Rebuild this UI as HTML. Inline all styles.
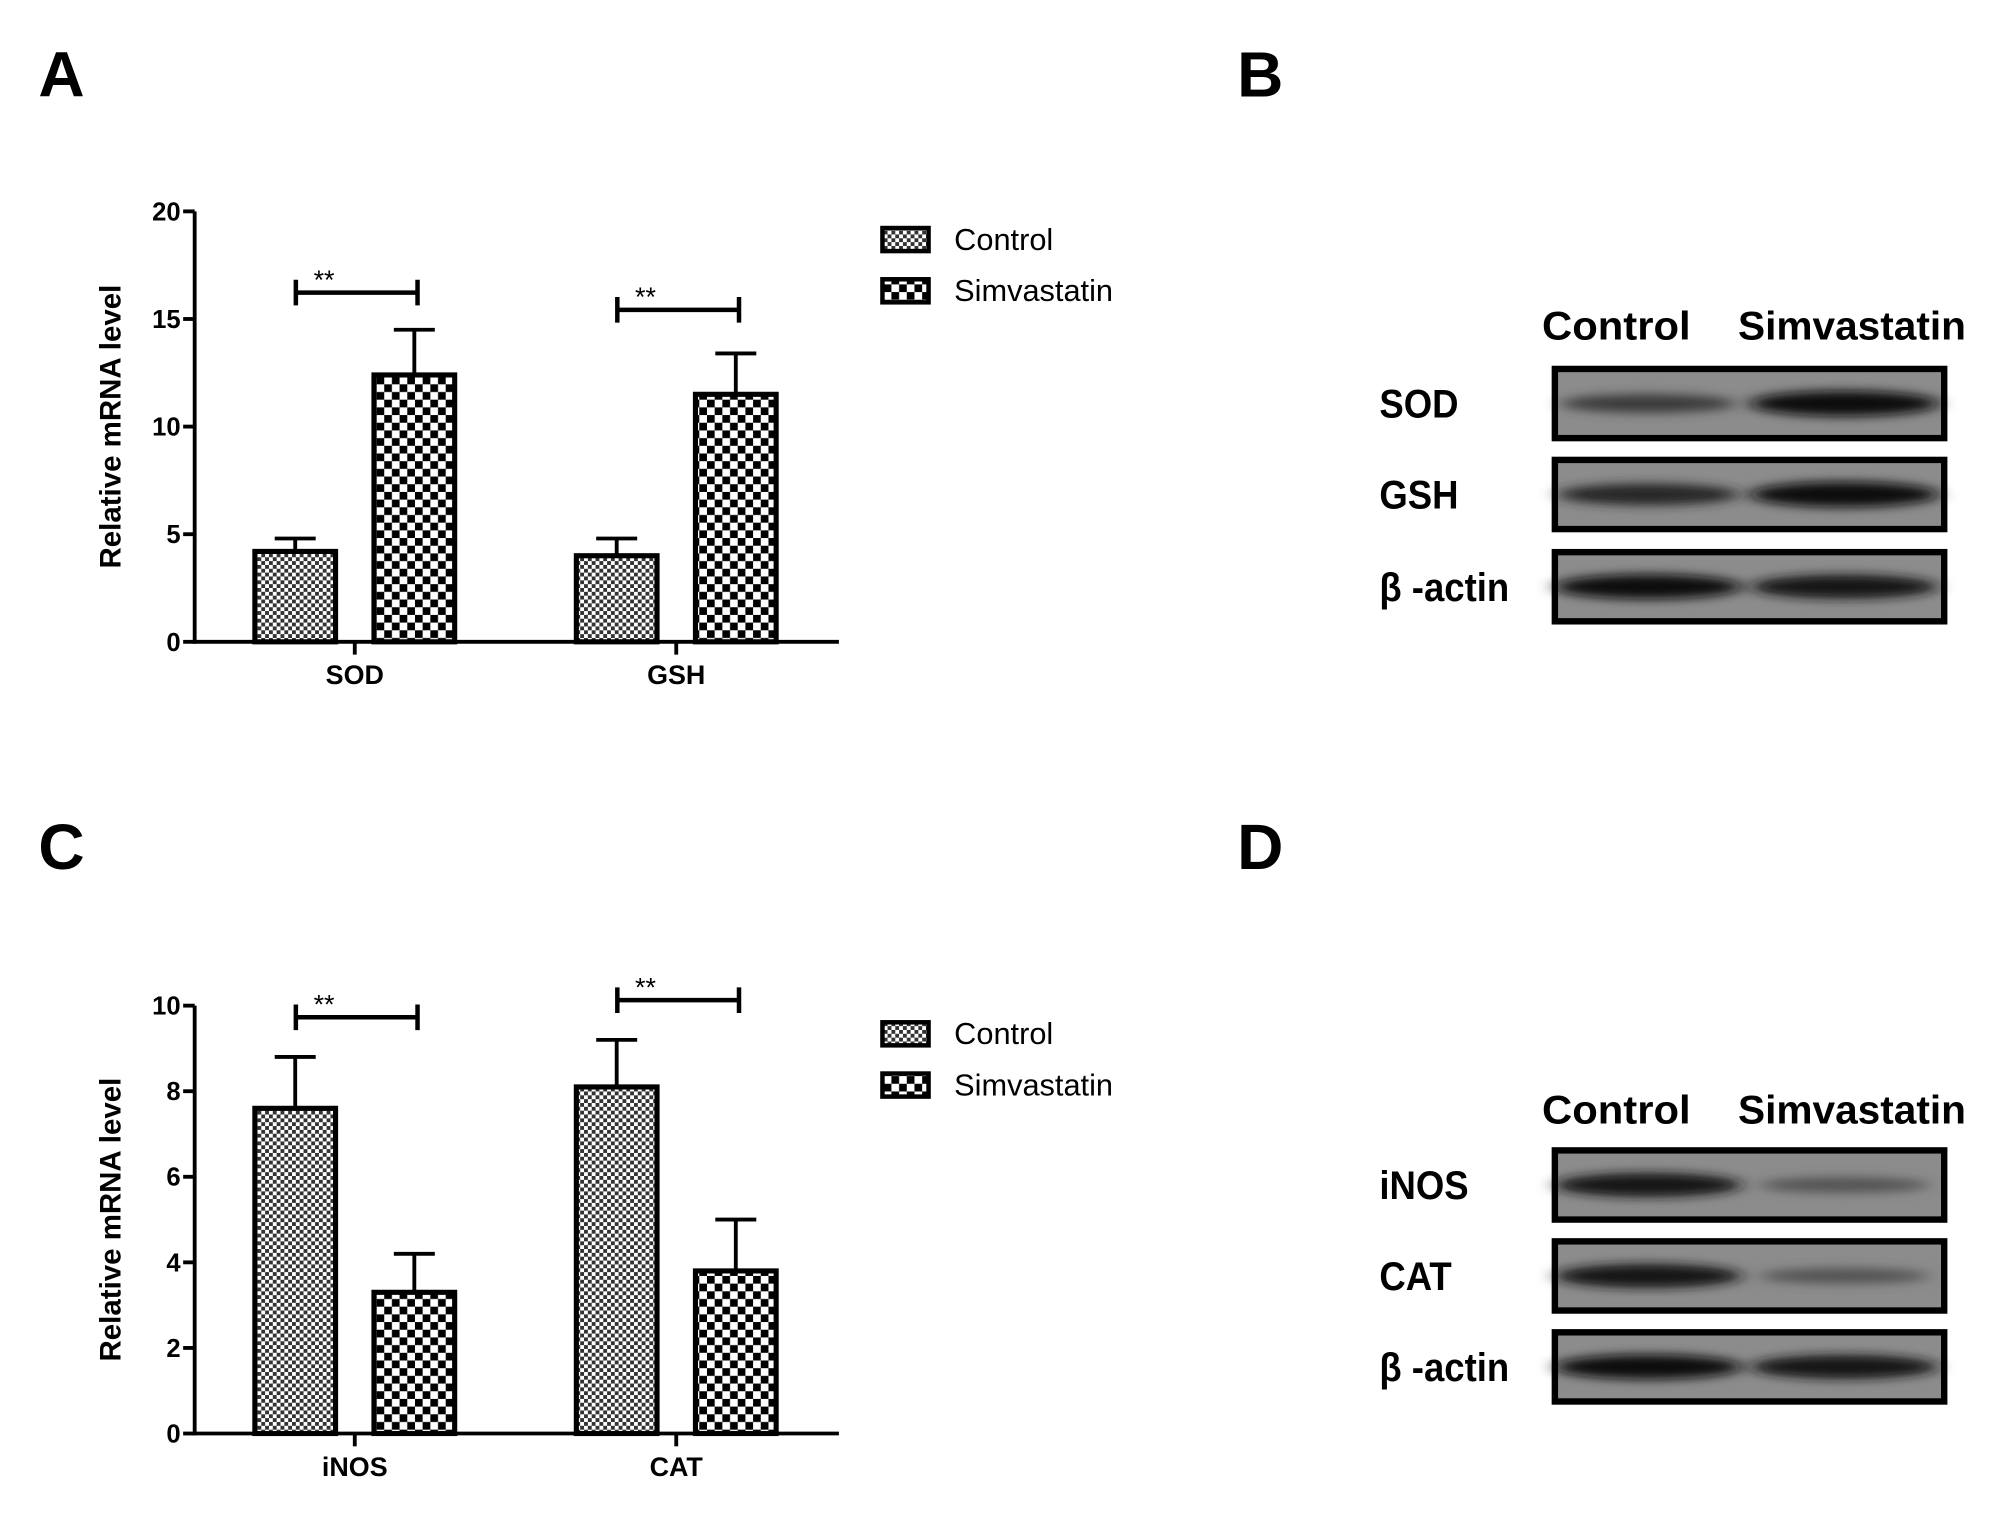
<!DOCTYPE html>
<html><head><meta charset="utf-8">
<style>
html,body{margin:0;padding:0;background:#fff;}
svg{display:block;}
text{font-family:"Liberation Sans",Arial,sans-serif;}
</style></head>
<body>
<svg id="fig" width="1998" height="1536" viewBox="0 0 1560 1199" preserveAspectRatio="none" xmlns="http://www.w3.org/2000/svg">
<defs>
<pattern id="pCtrl" width="6" height="6" patternUnits="userSpaceOnUse">
<rect width="6" height="6" fill="#fff"/><rect width="3" height="3" fill="#333"/><rect x="3" y="3" width="3" height="3" fill="#333"/>
</pattern>
<pattern id="pSim" width="12" height="12" patternUnits="userSpaceOnUse">
<rect width="12" height="12" fill="#fff"/><rect width="6" height="6" fill="#000"/><rect x="6" y="6" width="6" height="6" fill="#000"/>
</pattern>
<filter id="blur" x="-30%" y="-100%" width="160%" height="300%"><feGaussianBlur stdDeviation="7 4"/></filter>
</defs>
<g id="root"></g>
</svg>
<script>
// Panel A data
const catsA = ["SOD", "GSH"];
const ctrlA = [4.2, 4.0];
const ctrlErrA = [0.6, 0.8];
const simA = [12.4, 11.5];
const simErrA = [2.1, 1.9];
const ticksA = [0, 5, 10, 15, 20];
// Panel C data
const catsC = ["iNOS", "CAT"];
const ctrlC = [7.6, 8.1];
const ctrlErrC = [1.2, 1.1];
const simC = [3.3, 3.8];
const simErrC = [0.9, 1.2];
const ticksC = [0, 2, 4, 6, 8, 10];
// Blot data (band darkness 0-1: control, simvastatin)
const blotRowsB = ["SOD", "GSH", "β -actin"];
const blotCtrlB = [0.55, 0.75, 0.95];
const blotSimB = [1.0, 1.0, 0.9];
const blotRowsD = ["iNOS", "CAT", "β -actin"];
const blotCtrlD = [0.9, 0.9, 0.95];
const blotSimD = [0.35, 0.35, 0.9];

const NS = "http://www.w3.org/2000/svg";
const root = document.getElementById("root");
function el(tag, attrs, parent, txt) {
  const e = document.createElementNS(NS, tag);
  for (const k in attrs) e.setAttribute(k, attrs[k]);
  if (txt !== undefined) e.textContent = txt;
  (parent || root).appendChild(e);
  return e;
}

function panelLetter(t, x, y) {
  const e = el("text", {x: x, y: y, "font-size": 50, "font-weight": "bold", "text-anchor": "middle", "dominant-baseline": "middle"}, root, t);
  
  
}

function barChart(cfg) {
  const g = el("g", {});
  
  
  const x0 = 152, x1 = 655, yBase = cfg.y0, yTopPx = cfg.yTop;
  const maxV = cfg.ticks[cfg.ticks.length - 1];
  const ys = v => yBase - (v / maxV) * (yBase - yTopPx);
  const ax = el("g", {}, g);
  
  
  el("line", {x1: x0, y1: yTopPx, x2: x0, y2: yBase + 1.5, stroke: "#000", "stroke-width": 3}, ax);
  cfg.ticks.forEach(t => {
    const y = ys(t);
    el("line", {x1: x0 - 9, y1: y, x2: x0, y2: y, stroke: "#000", "stroke-width": 3}, ax);
    const tl = el("text", {x: x0 - 11, y: y + 7, "font-size": 20, "font-weight": "bold", "text-anchor": "end"}, ax, String(t));
    
    
  });
  const xa = el("line", {x1: x0, y1: yBase, x2: x1, y2: yBase, stroke: "#000", "stroke-width": 3}, g);
  
  
  const yt = el("text", {x: 0, y: 0, "font-size": 23, "font-weight": "bold", "text-anchor": "middle", transform: "translate(94," + ((yBase + yTopPx) / 2) + ") rotate(-90)"}, g, "Relative mRNA level");
  
  
  const groupW = 251, bw = 63;
  cfg.cats.forEach((c, i) => {
    const cx = 277 + i * groupW;
    el("line", {x1: cx, y1: yBase, x2: cx, y2: yBase + 10, stroke: "#000", "stroke-width": 3}, g);
    const cl = el("text", {x: cx, y: yBase + 33, "font-size": 21, "font-weight": "bold", "text-anchor": "middle"}, g, c);
    
    
    const series = [[cfg.ctrl[i], cfg.ctrlErr[i], "url(#pCtrl)", cx - 78, "control"], [cfg.sim[i], cfg.simErr[i], "url(#pSim)", cx + 15, "simvastatin"]];
    const tops = [];
    series.forEach(s => {
      const bx = s[3], yv = ys(s[0]), ye = ys(s[0] + s[1]);
      const ec = bx + bw / 2;
      const er = el("path", {d: "M" + ec + "," + yv + "V" + ye + "M" + (ec - 16) + "," + ye + "H" + (ec + 16), stroke: "#000", "stroke-width": 3, fill: "none"}, g);
      
      
      const b = el("rect", {x: bx, y: yv, width: bw, height: yBase - yv, fill: s[2], stroke: "#000", "stroke-width": 4}, g);
      
      
      tops.push(ye);
    });
    const bx1 = cx - 46, bx2 = cx + 49;
    const by = Math.min(tops[0], tops[1]) - cfg.gap[i];
    const br = el("path", {d: "M" + bx1 + "," + (by - 10) + "V" + (by + 10) + "M" + bx1 + "," + by + "H" + bx2 + "M" + bx2 + "," + (by - 10) + "V" + (by + 10), stroke: "#000", "stroke-width": 3.5, fill: "none"}, g);
    
    
    const st = el("text", {x: bx1 + 22, y: by - 3, "font-size": 21, "text-anchor": "middle"}, g, "**");
    
    
  });
  const lg = el("g", {}, g);
  
  
  [["Control", "url(#pCtrl)"], ["Simvastatin", "url(#pSim)"]].forEach((L, k) => {
    const ly = cfg.legY + k * 40;
    const e = el("g", {}, lg);
    
    
    el("rect", {x: 689, y: ly - 9, width: 36, height: 18, fill: L[1], stroke: "#000", "stroke-width": 3.5}, e);
    el("text", {x: 745, y: ly + 8, "font-size": 24}, e, L[0]);
  });
}

function blot(cfg) {
  const g = el("g", {});
  
  
  const h1 = el("text", {x: 1204, y: cfg.headY + 11, "font-size": 31, "font-weight": "bold", textLength: 116, lengthAdjust: "spacingAndGlyphs"}, g, "Control");
  
  
  const h2 = el("text", {x: 1357, y: cfg.headY + 11, "font-size": 31, "font-weight": "bold", textLength: 178, lengthAdjust: "spacingAndGlyphs"}, g, "Simvastatin");
  
  
  cfg.rows.forEach((r, i) => {
    const top = cfg.rowTops[i], h = 54;
    const rl = el("text", {x: 1077, y: top + h / 2 + 11, "font-size": 31, "font-weight": "bold", transform: "translate(1077,0) scale(0.92,1) translate(-1077,0)"}, g, r);
    
    
    const box = el("g", {}, g);
    
    
    el("rect", {x: 1214, y: top, width: 304, height: h, fill: "#8c8c8c"}, box);
    [[cfg.ctrl[i], 1287], [cfg.sim[i], 1440]].forEach(b => {
      const v = b[0];
      const shade = Math.round(120 - v * 110);
      el("ellipse", {cx: b[1], cy: top + h / 2, rx: 62 + v * 12, ry: 4 + v * 6, fill: "rgb(" + shade + "," + shade + "," + shade + ")", filter: "url(#blur)"}, box);
    });
    el("rect", {x: 1214, y: top, width: 304, height: h, fill: "none", stroke: "#000", "stroke-width": 5}, box);
  });
}

panelLetter("A", 48, 62);
panelLetter("B", 984, 62);
panelLetter("C", 48, 665);
panelLetter("D", 984, 665);
barChart({name: "chart-a", cats: catsA, ctrl: ctrlA, ctrlErr: ctrlErrA, sim: simA, simErr: simErrA, ticks: ticksA, y0: 501, yTop: 165, legY: 187, gap: [29, 34]});
barChart({name: "chart-c", cats: catsC, ctrl: ctrlC, ctrlErr: ctrlErrC, sim: simC, simErr: simErrC, ticks: ticksC, y0: 1119, yTop: 785, legY: 807, gap: [31, 31]});
blot({name: "western-blot-b", rows: blotRowsB, ctrl: blotCtrlB, sim: blotSimB, headY: 254, rowTops: [288, 359, 431]});
blot({name: "western-blot-d", rows: blotRowsD, ctrl: blotCtrlD, sim: blotSimD, headY: 866, rowTops: [898, 969, 1040]});
</script>
</body></html>
